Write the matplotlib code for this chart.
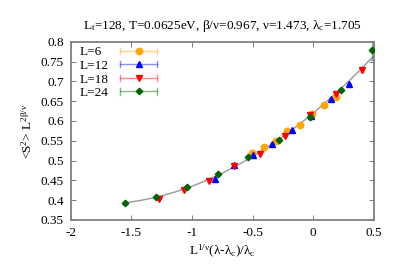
import numpy as np
import matplotlib
matplotlib.use("Agg")
import matplotlib.pyplot as plt
from matplotlib.lines import Line2D
from matplotlib.legend_handler import HandlerBase

plt.rcParams["font.family"] = ["Liberation Serif", "DejaVu Serif"]
plt.rcParams["mathtext.fontset"] = "custom"
plt.rcParams["mathtext.rm"] = "Liberation Serif"
plt.rcParams["mathtext.it"] = "Liberation Serif:italic"

# data
x_L6 = [-0.508, -0.409, -0.307, -0.214, -0.112, -0.011, 0.088, 0.187]
y_L6 = [0.518, 0.535, 0.549, 0.574, 0.590, 0.617, 0.639, 0.661]
e_L6 = [0.002] * 8

x_L12 = [-0.810, -0.651, -0.495, -0.338, -0.176, -0.016, 0.143, 0.297]
y_L12 = [0.453, 0.488, 0.514, 0.543, 0.578, 0.613, 0.655, 0.694]
e_L12 = [0.002] * 8

x_L18 = [-1.275, -1.066, -0.857, -0.651, -0.439, -0.233, -0.027, 0.187, 0.399]
y_L18 = [0.404, 0.426, 0.449, 0.486, 0.516, 0.561, 0.614, 0.669, 0.728]
e_L18 = [0.002] * 8 + [0.004]

x_L24 = [-1.552, -1.297, -1.039, -0.788, -0.536, -0.280, -0.027, 0.228, 0.481]
y_L24 = [0.394, 0.409, 0.433, 0.466, 0.508, 0.551, 0.611, 0.679, 0.780]
e_L24 = [0.002] * 8 + [0.025]

series = [
    ("L=6", x_L6, y_L6, e_L6, "#ffa500", "o", 4.6),
    ("L=12", x_L12, y_L12, e_L12, "#0000ff", "^", 5.0),
    ("L=18", x_L18, y_L18, e_L18, "#ff0000", "v", 5.0),
    ("L=24", x_L24, y_L24, e_L24, "#006400", "D", 3.3),
]


class HandlerXBar(HandlerBase):
    # gnuplot-like key sample: horizontal bar with end caps, point in the middle
    def create_artists(self, legend, orig, xdescent, ydescent, width, height, fontsize, trans):
        y = height / 2 - ydescent
        x0, x1 = -xdescent, width - xdescent
        c = orig.get_color()
        bar = Line2D([x0, x1], [y, y], color=c, alpha=0.45, lw=1.0, transform=trans)
        cap1 = Line2D([x0, x0], [y - 2.2, y + 2.2], color=c, alpha=0.45, lw=1.0, transform=trans)
        cap2 = Line2D([x1, x1], [y - 2.2, y + 2.2], color=c, alpha=0.45, lw=1.0, transform=trans)
        mk = Line2D([(x0 + x1) / 2], [y], marker=orig.get_marker(),
                    markersize=orig.get_markersize(), color=c, ls="none", transform=trans)
        return [bar, cap1, cap2, mk]


fig = plt.figure(figsize=(3.99, 2.79), dpi=100)
ax = fig.add_axes([0.177, 0.2115, 0.76, 0.639])

# fitted scaling curve through all points
all_x = np.concatenate([x_L6, x_L12, x_L18, x_L24])
all_y = np.concatenate([y_L6, y_L12, y_L18, y_L24])
coef = np.polyfit(all_x, all_y, 2)
xs = np.linspace(min(all_x), 0.5, 200)
ax.plot(xs, np.polyval(coef, xs), color="#999999", lw=1.0, zorder=1)

handles = []
blanks = []
for name, x, y, e, c, m, ms in series:
    ax.errorbar(x, y, yerr=e, fmt="none", ecolor=c, alpha=0.45, elinewidth=1.0, capsize=1.5, zorder=2)
    ax.plot(x, y, ls="none", marker=m, color=c, markersize=ms, zorder=3)
    handles.append(Line2D([], [], color=c, marker=m, markersize=ms, ls="none"))
    blanks.append(Line2D([], [], ls="none"))

ax.set_xlim(-2, 0.5)
ax.set_ylim(0.35, 0.8)
ax.set_xticks(np.arange(-2, 0.51, 0.5))
ax.set_xticklabels(["-2", "-1.5", "-1", "-0.5", "0", "0.5"])
ax.set_yticks(np.arange(0.35, 0.801, 0.05))
ax.set_yticklabels(["0.35", "0.4", "0.45", "0.5", "0.55", "0.6", "0.65", "0.7", "0.75", "0.8"])
ax.tick_params(direction="in", top=True, right=True, length=3.5, width=0.6,
               color="#666666", labelsize=9.5, pad=5)
for sp in ax.spines.values():
    sp.set_color("#808080")
    sp.set_linewidth(1.3)

ax.set_title(r"L$_\mathrm{t}$=128, T=0.0625eV, β/ν=0.967, ν=1.473, λ$_\mathrm{c}$=1.705",
             fontsize=9.5, pad=9)
ax.set_xlabel(r"L$^{1/\mathrm{ν}}$(λ-λ$_\mathrm{c}$)/λ$_\mathrm{c}$", fontsize=9.5, labelpad=3)
ax.set_ylabel(r"<S$^2$> L$^{2\mathrm{β}/\mathrm{ν}}$", fontsize=9.5, labelpad=4)

# key: left-aligned labels, samples in their own column (gnuplot style)
names = [s[0] for s in series]
leg1 = ax.legend(blanks, names, loc="upper left", bbox_to_anchor=(0.03, 0.975), frameon=False,
                 fontsize=9.5, handlelength=0, handletextpad=0, labelspacing=0.1,
                 borderaxespad=0, borderpad=0)
ax.add_artist(leg1)
ax.legend(handles, [""] * 4, loc="upper left", bbox_to_anchor=(0.163, 0.975), frameon=False,
          fontsize=9.5, handlelength=2.8, handletextpad=0, labelspacing=0.1,
          borderaxespad=0, borderpad=0, handler_map={Line2D: HandlerXBar()})

fig.savefig("out.png", dpi=100)
